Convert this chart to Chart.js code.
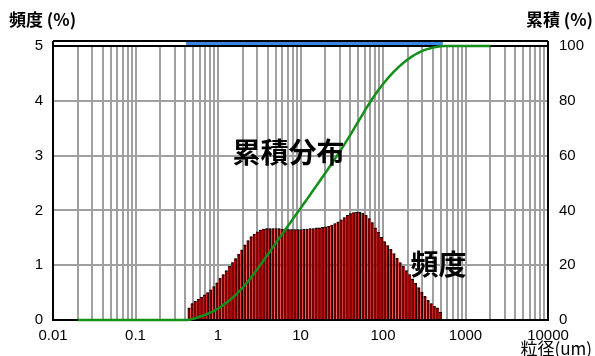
<!DOCTYPE html>
<html>
<head>
<meta charset="utf-8">
<script src="https://cdn.jsdelivr.net/npm/chart.js@4/dist/chart.umd.min.js"></script>
<style>
  html, body { margin: 0; padding: 0; background: #fff; }
  #wrap { width: 595px; height: 356px; }
</style>
</head>
<body>
<div id="wrap"><canvas id="psd" width="595" height="356"></canvas></div>
<script>
// Channel sizes (µm) of the measured distribution
const particleSizes = [0.446,0.486,0.530,0.578,0.630,0.688,0.750,0.818,0.892,0.972,
  1.060,1.156,1.261,1.375,1.499,1.635,1.783,1.945,2.121,2.312,2.522,2.750,2.999,3.270,3.566,3.889,4.241,4.625,5.044,5.500,5.998,6.541,7.133,7.778,8.482,9.250,
  10.09,11.00,12.00,13.08,14.27,15.56,16.96,18.50,20.17,22.00,23.99,26.16,28.53,31.11,33.93,37.00,40.35,44.00,47.98,52.33,57.06,62.23,67.86,74.00,80.70,88.00,95.96,
  104.7,114.1,124.5,135.7,148.0,161.4,176.0,191.9,209.3,228.2,248.9,271.4,296.0,322.8,352.0,383.9,418.6,456.5,497.8];

// Frequency per channel (%)
const frequency = [0.22,0.30,0.34,0.38,0.42,0.46,0.50,0.55,0.61,0.68,
  0.76,0.83,0.90,0.98,1.05,1.12,1.20,1.28,1.37,1.45,1.52,1.57,1.61,1.64,1.66,1.67,1.67,1.67,1.67,1.67,1.66,1.66,1.65,1.65,1.65,1.65,
  1.65,1.66,1.66,1.67,1.67,1.68,1.68,1.69,1.70,1.71,1.73,1.76,1.79,1.83,1.87,1.91,1.94,1.96,1.97,1.97,1.95,
  1.91,1.85,1.78,1.68,1.60,1.51,1.43,1.36,1.29,1.21,1.13,1.05,0.98,0.90,0.83,0.75,0.67,0.59,0.51,0.43,0.36,0.30,0.25,0.22,0.14];

// Cumulative distribution (%) at each channel
const cumulative = [0.11,0.36,0.66,1.01,1.40,1.82,2.28,2.79,3.35,3.97,
  4.66,5.43,6.26,7.16,8.14,9.19,10.30,11.50,12.77,14.13,15.56,17.05,18.58,20.14,21.73,23.34,24.94,26.55,28.16,29.77,31.37,32.97,34.56,36.15,37.74,39.33,
  40.92,42.51,44.11,45.72,47.32,48.94,50.55,52.18,53.81,55.45,57.11,58.79,60.50,62.24,64.02,65.84,67.69,69.57,71.46,73.36,75.25,
  77.11,78.92,80.66,82.33,83.91,85.41,86.82,88.17,89.44,90.64,91.77,92.82,93.80,94.70,95.54,96.30,96.98,97.59,98.12,98.57,98.95,99.27,99.53,99.76,99.93];

// Cumulative curve extends over the full instrument range
const curveLeadSizes = [0.02, 0.42];
const curveLeadValues = [0, 0];
const curveTailSizes = [560, 2000];
const curveTailValues = [100, 100];

// Measured size range shown as the band above the plot
const bandRange = [0.41, 530];

// Axis ticks and labels
const decades = [0.01, 0.1, 1, 10, 100, 1000];
const xTickLabels = ['0.01', '0.1', '1', '10', '100', '1000', '10000'];
const yLeftMax = 5;
const yRightMax = 100;

const xTickValues = [];
decades.forEach(d => { for (let m = 1; m <= 9; m++) xTickValues.push(+(d * m).toPrecision(3)); });
xTickValues.push(10000);

const curveSizes = [...curveLeadSizes, ...particleSizes, ...curveTailSizes];
const curveValues = [...curveLeadValues, ...cumulative, ...curveTailValues];

const barPoints = particleSizes.map((x, i) => ({ x, y: frequency[i] }));
const curvePoints = curveSizes.map((x, i) => ({ x, y: curveValues[i] }));

Chart.defaults.font.family = "'Liberation Sans', Arial, sans-serif";
Chart.defaults.color = '#000';

const cjk = "'Noto Sans CJK JP', 'Noto Sans CJK SC', sans-serif";
const gridColor = '#a0a0a0';

function drawFrame(chart) {
  const { ctx, chartArea: a, scales } = chart;
  const x = scales.x;
  ctx.save();
  const bandTop = a.top - 5;
  ctx.fillStyle = '#fff';
  ctx.fillRect(a.left, bandTop, a.right - a.left, 5);
  const bx0 = x.getPixelForValue(bandRange[0]);
  const bx1 = x.getPixelForValue(bandRange[1]);
  ctx.fillStyle = '#3a86e6';
  ctx.fillRect(bx0, bandTop + 1, bx1 - bx0, 4);
  ctx.strokeStyle = '#000';
  ctx.lineWidth = 2;
  ctx.beginPath();
  ctx.moveTo(a.left, bandTop);
  ctx.lineTo(a.right, bandTop);
  ctx.moveTo(a.left, bandTop);
  ctx.lineTo(a.left, a.top);
  ctx.moveTo(a.right, bandTop);
  ctx.lineTo(a.right, a.top);
  ctx.stroke();
  ctx.strokeRect(a.left, a.top, a.right - a.left, a.bottom - a.top);
  ctx.restore();
}

// Frame, range band and text annotations
const decorations = {
  id: 'decorations',
  beforeDatasetsDraw(chart) { drawFrame(chart); },
  afterDatasetDraw(chart, args) {
    // redraw the frame over the bars, below the cumulative curve
    if (args.index === 1) drawFrame(chart);
  },
  afterDraw(chart) {
    const { ctx, scales } = chart;
    ctx.save();
    ctx.fillStyle = '#000';
    ctx.textBaseline = 'alphabetic';
    ctx.textAlign = 'left';
    ctx.font = 'bold 17px ' + cjk;
    ctx.fillText('頻度 (%)', 9, 26);
    ctx.textAlign = 'right';
    ctx.fillText('累積 (%)', 593, 26);
    ctx.font = '17px ' + cjk;
    ctx.fillText('粒径(um)', 592, 355);
    ctx.textAlign = 'left';
    ctx.font = 'bold 28px ' + cjk;
    ctx.fillText('累積分布', scales.x.getPixelForValue(1.5), scales.y.getPixelForValue(2.86));
    ctx.fillText('頻度', scales.x.getPixelForValue(215), scales.y.getPixelForValue(0.82));
    ctx.restore();
  }
};

new Chart(document.getElementById('psd'), {
  type: 'bar',
  data: {
    datasets: [
      {
        type: 'line',
        data: curvePoints,
        yAxisID: 'y1',
        borderColor: '#14901a',
        borderWidth: 2.5,
        pointRadius: 0,
        cubicInterpolationMode: 'monotone',
        clip: 4,
        order: 0
      },
      {
        data: barPoints,
        yAxisID: 'y',
        grouped: false,
        backgroundColor: '#700000',
        borderColor: '#000',
        borderWidth: { top: 1, right: 1, left: 0, bottom: 0 },
        borderSkipped: false,
        barPercentage: 0.8,
        categoryPercentage: 1,
        order: 1
      },
      {
        data: barPoints,
        yAxisID: 'y',
        grouped: false,
        backgroundColor: '#ff1010',
        borderColor: '#000',
        borderWidth: { top: 1, right: 0, left: 0, bottom: 0 },
        borderSkipped: false,
        barPercentage: 1,
        categoryPercentage: 1,
        order: 2
      }
    ]
  },
  options: {
    responsive: false,
    animation: false,
    devicePixelRatio: 1,
    layout: { padding: { top: 46, left: 0, right: 0, bottom: 0 } },
    plugins: { legend: { display: false }, tooltip: { enabled: false } },
    scales: {
      x: {
        type: 'logarithmic',
        min: 0.01,
        max: 10000,
        offset: false,
        grid: { color: gridColor, lineWidth: 2, drawTicks: false, offset: false },
        border: { display: false },
        afterBuildTicks: s => { s.ticks = xTickValues.map(v => ({ value: v })); },
        afterFit: s => { s.height = 36; },
        ticks: {
          autoSkip: false,
          maxRotation: 0,
          padding: 7,
          font: { size: 15 },
          callback: (v) => {
            const k = Math.log10(v) + 2;
            return Math.abs(k - Math.round(k)) < 1e-6 ? xTickLabels[Math.round(k)] : '';
          }
        }
      },
      y: {
        position: 'left',
        min: 0,
        max: yLeftMax,
        grid: { color: gridColor, lineWidth: 2, drawTicks: false },
        border: { display: false },
        afterFit: s => { s.width = 53; },
        ticks: { stepSize: 1, padding: 10, font: { size: 15 } }
      },
      y1: {
        position: 'right',
        min: 0,
        max: yRightMax,
        grid: { display: false, drawTicks: false },
        border: { display: false },
        afterFit: s => { s.width = 47; },
        ticks: { stepSize: 20, padding: 11, font: { size: 15 } }
      }
    }
  },
  plugins: [decorations]
});
</script>
</body>
</html>
